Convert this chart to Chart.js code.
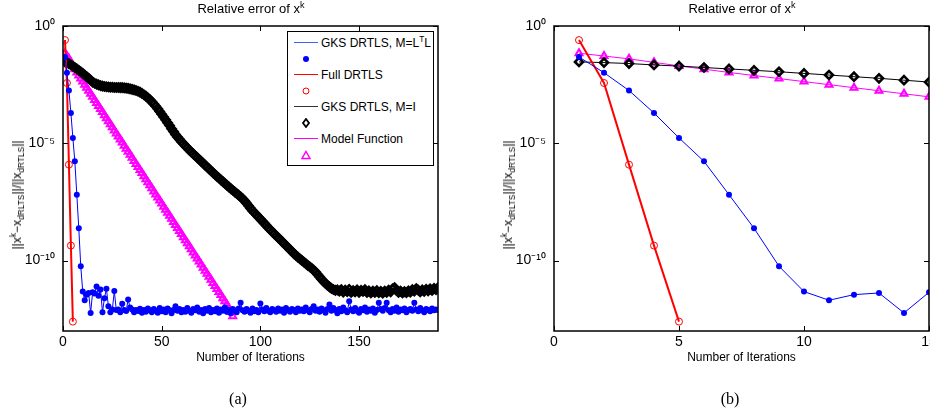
<!DOCTYPE html>
<html>
<head>
<meta charset="utf-8">
<title>Relative error of x^k</title>
<script src="https://cdn.jsdelivr.net/npm/chart.js@4.4.1/dist/chart.umd.min.js"></script>
<style>
  html, body { margin: 0; padding: 0; width: 930px; height: 414px; overflow: hidden; background: #fff; }
  body { position: relative; font-family: "Liberation Sans", Arial, sans-serif; color: #000; }
  .panel { position: absolute; top: 0; width: 450px; height: 414px; }
  .title { position: absolute; top: 1px; font-size: 13px; transform: translateX(-50%); white-space: nowrap; }
  .ylab { position: absolute; top: 195px; font-size: 12px; white-space: nowrap; transform: translate(-50%, -50%) rotate(-90deg); }
  sup, sub { font-size: 70%; line-height: 0; position: relative; vertical-align: baseline; }
  sup { top: -0.6em; }
  sub { top: 0.4em; }
  .caption { position: absolute; top: 390px; font-family: "Liberation Serif", "Times New Roman", serif; font-size: 16px; transform: translateX(-50%); }
  .legend { position: absolute; left: 287px; top: 31px; width: 145px; height: 133px; border: 1px solid #000; background: #fff; font-size: 12px; }
  .legend .row { position: absolute; left: 0; height: 16px; line-height: 16px; width: 100%; white-space: nowrap; }
  .legend .line { position: absolute; left: 6px; top: 7px; width: 24px; height: 0; border-top: 1.5px solid; }
  .legend .txt { position: absolute; left: 33px; top: 0; }
  .legend svg { position: absolute; left: 13px; top: 3px; }
</style>
</head>
<body>

<div class="panel" style="left:0"><canvas id="chartA"></canvas></div>
<div class="panel" style="left:491px"><canvas id="chartB"></canvas></div>

<div class="title" style="left:251px">Relative error of x<sup>k</sup></div>
<div class="title" style="left:742px">Relative error of x<sup>k</sup></div>

<div class="ylab" style="left:17px">||x<sup>k</sup>&minus;x<sub>dRLTS</sub>||/||x<sub>dRTLS</sub>||</div>
<div class="ylab" style="left:508px">||x<sup>k</sup>&minus;x<sub>dRLTS</sub>||/||x<sub>dRTLS</sub>||</div>

<div class="legend">
  <div class="row" style="top:3px"><span class="line" style="border-color:#4060ff"></span><span class="txt">GKS DRTLS, M=L<sup>T</sup>L</span></div>
  <div class="row" style="top:19px"><svg width="10" height="10"><circle cx="5" cy="5" r="3" fill="#0000ff"/></svg></div>
  <div class="row" style="top:35px"><span class="line" style="border-color:#ff0000"></span><span class="txt">Full DRTLS</span></div>
  <div class="row" style="top:51px"><svg width="10" height="10"><circle cx="5" cy="5" r="3" fill="none" stroke="#ff0000" stroke-width="1"/></svg></div>
  <div class="row" style="top:67px"><span class="line" style="border-color:#333"></span><span class="txt">GKS DRTLS, M=I</span></div>
  <div class="row" style="top:83px"><svg width="10" height="10"><polygon points="5,1 8,5 5,9 2,5" fill="none" stroke="#000" stroke-width="1.8"/></svg></div>
  <div class="row" style="top:99px"><span class="line" style="border-color:#ff00ff"></span><span class="txt">Model Function</span></div>
  <div class="row" style="top:115px"><svg width="10" height="10"><polygon points="5,1.5 9,8.5 1,8.5" fill="none" stroke="#ff00ff" stroke-width="1.5"/></svg></div>
</div>

<div class="caption" style="left:238px">(a)</div>
<div class="caption" style="left:730px">(b)</div>

<script>
// log10 of the relative error, one value per iteration (k = 1, 2, ...)
const gksLtlErr = [
  -1.32, -1.99, -2.75, -3.71, -4.77, -5.77, -7.19, -8.62, -10.24, -11.32,
  -11.69, -11.45, -11.38, -12.23, -11.35, -11.40, -11.10, -11.50, -11.23, -12.20,
  -11.60, -11.20, -11.94, -12.20, -12.08, -11.30, -12.10, -12.08, -12.20, -11.84,
  -12.10, -12.15, -11.66, -12.00, -12.08, -12.20, -12.10, -12.15, -12.05, -12.22,
  -12.10, -12.18, -12.04, -12.12, -12.20, -12.06, -12.14, -12.22, -12.02, -12.16,
  -12.08, -12.20, -12.04, -12.12, -12.24, -12.10, -11.94, -12.14, -12.06, -12.20,
  -12.10, -12.18, -12.02, -12.14, -12.22, -12.06, -12.12, -12.00, -12.18, -12.10,
  -12.24, -12.06, -12.14, -12.02, -12.20, -12.10, -12.16, -12.04, -12.22, -12.08,
  -12.14, -12.00, -12.18, -12.10, -12.24, -12.06, -12.12, -12.20, -12.04, -11.80,
  -12.12, -12.18, -12.06, -12.14, -12.22, -12.04, -12.16, -12.10, -12.20, -11.83,
  -12.08, -12.16, -12.02, -12.14, -12.20, -12.06, -12.12, -12.18, -12.04, -12.14,
  -12.08, -12.22, -12.02, -12.12, -12.18, -12.06, -12.10, -12.20, -12.04, -12.14,
  -12.08, -12.16, -12.00, -12.12, -12.20, -12.06, -11.94, -12.14, -12.08, -12.18,
  -12.04, -12.12, -12.22, -12.06, -11.87, -12.14, -12.02, -12.10, -12.24, -12.06,
  -12.16, -12.00, -12.12, -12.20, -11.73, -12.08, -12.16, -12.02, -12.14, -12.22,
  -12.06, -12.12, -12.00, -12.18, -12.08, -12.14, -12.04, -12.22, -12.10, -11.80,
  -12.06, -12.14, -12.02, -11.80, -12.12, -12.20, -12.06, -12.14, -12.00, -12.18,
  -12.08, -12.12, -12.04, -12.20, -12.10, -12.06, -12.14, -11.80, -12.08, -12.16,
  -12.02, -12.12, -12.20, -12.06, -12.10, -12.16, -12.04, -12.12, -12.08, -12.10
];
const fullErr = [-0.60, -2.43, -5.91, -9.36, -12.60];
const gksIdErr = [
  -1.53, -1.56, -1.60, -1.66, -1.71, -1.77, -1.83, -1.89, -1.95, -2.02,
  -2.09, -2.16, -2.23, -2.31, -2.39, -2.44, -2.48, -2.51, -2.54, -2.56,
  -2.58, -2.59, -2.60, -2.61, -2.61, -2.62, -2.62, -2.62, -2.63, -2.63,
  -2.64, -2.65, -2.66, -2.68, -2.70, -2.72, -2.75, -2.78, -2.82, -2.87,
  -2.93, -2.99, -3.06, -3.14, -3.23, -3.32, -3.42, -3.53, -3.64, -3.76,
  -3.88, -4.00, -4.12, -4.24, -4.38, -4.50, -4.62, -4.73, -4.83, -4.93,
  -5.02, -5.11, -5.20, -5.29, -5.37, -5.45, -5.53, -5.61, -5.69, -5.77,
  -5.85, -5.93, -6.01, -6.09, -6.17, -6.25, -6.33, -6.41, -6.48, -6.56,
  -6.63, -6.71, -6.78, -6.86, -6.93, -7.00, -7.07, -7.14, -7.21, -7.28,
  -7.36, -7.45, -7.55, -7.66, -7.77, -7.87, -7.96, -8.05, -8.14, -8.23,
  -8.32, -8.41, -8.50, -8.60, -8.68, -8.77, -8.85, -8.94, -9.02, -9.10,
  -9.19, -9.27, -9.36, -9.44, -9.53, -9.61, -9.70, -9.78, -9.85, -9.92,
  -9.99, -10.06, -10.13, -10.20, -10.26, -10.33, -10.40, -10.49, -10.59, -10.69,
  -10.79, -10.89, -10.97, -11.05, -11.12, -11.18, -11.23, -11.27, -11.25, -11.30,
  -11.24, -11.34, -11.26, -11.32, -11.22, -11.36, -11.28, -11.33, -11.25, -11.35,
  -11.27, -11.31, -11.24, -11.36, -11.29, -11.38, -11.30, -11.36, -11.28, -11.37,
  -11.31, -11.39, -11.30, -11.36, -11.26, -11.33, -11.20, -11.15, -11.27, -11.36,
  -11.30, -11.38, -11.32, -11.37, -11.29, -11.34, -11.24, -11.30, -11.19, -11.26,
  -11.33, -11.25, -11.31, -11.22, -11.29, -11.20, -11.27, -11.18, -11.24, -11.15
];
const modelErr = [
  -1.16, -1.28, -1.40, -1.55, -1.70, -1.84, -1.98, -2.11, -2.24, -2.37,
  -2.50, -2.63, -2.76, -2.89, -3.02, -3.15, -3.28, -3.41, -3.54, -3.67,
  -3.80, -3.93, -4.06, -4.19, -4.32, -4.45, -4.58, -4.71, -4.84, -4.97,
  -5.10, -5.23, -5.36, -5.49, -5.62, -5.75, -5.88, -6.01, -6.14, -6.27,
  -6.40, -6.53, -6.66, -6.79, -6.92, -7.05, -7.18, -7.31, -7.44, -7.57,
  -7.70, -7.83, -7.96, -8.09, -8.22, -8.35, -8.48, -8.61, -8.74, -8.87,
  -9.00, -9.13, -9.26, -9.39, -9.52, -9.65, -9.78, -9.91, -10.04, -10.17,
  -10.30, -10.43, -10.56, -10.69, -10.82, -10.95, -11.08, -11.21, -11.34, -11.47,
  -11.60, -11.73, -11.87, -12.02, -12.18, -12.37
];

const xTicksA = [0, 50, 100, 150];
const xTicksB = [0, 5, 10, 15];
const yTicks = [1, 1e-5, 1e-10];
const yTickLabels = ['10\u2070', '10\u207B\u2075', '10\u207B\u00B9\u2070'];

Chart.defaults.font.family = '"Liberation Sans", Arial, Helvetica, sans-serif';
Chart.defaults.color = '#000';

// iteration k -> point, first value is k = 1
function toPoints(errs, count) {
  return errs.slice(0, count).map((e, i) => ({ x: i + 1, y: Math.pow(10, e) }));
}

// matlab style box with inward ticks on all four sides
const axesBox = {
  id: 'axesBox',
  afterDatasetsDraw(chart) {
    const { ctx, chartArea: a, scales } = chart;
    const len = 5;
    ctx.save();
    ctx.strokeStyle = '#000';
    ctx.lineWidth = 1;
    ctx.beginPath();
    scales.x.ticks.forEach(t => {
      const px = Math.round(scales.x.getPixelForValue(t.value)) + 0.5;
      ctx.moveTo(px, a.bottom); ctx.lineTo(px, a.bottom - len);
      ctx.moveTo(px, a.top); ctx.lineTo(px, a.top + len);
    });
    scales.y.ticks.forEach(t => {
      const py = Math.round(scales.y.getPixelForValue(t.value)) + 0.5;
      ctx.moveTo(a.left, py); ctx.lineTo(a.left + len, py);
      ctx.moveTo(a.right, py); ctx.lineTo(a.right - len, py);
    });
    ctx.stroke();
    ctx.lineWidth = 1.5;
    ctx.strokeRect(a.left, a.top, a.right - a.left, a.bottom - a.top);
    ctx.restore();
  }
};

function makeChart(id, xMax, xTicks, count) {
  const datasets = [
    {
      label: 'GKS DRTLS, M=LTL',
      data: toPoints(gksLtlErr, count),
      borderColor: '#0000ff', backgroundColor: '#0000ff', borderWidth: 1,
      pointStyle: 'circle', pointRadius: 3, pointBorderWidth: 0
    },
    {
      label: 'Full DRTLS',
      data: toPoints(fullErr, count),
      borderColor: '#ff0000', backgroundColor: 'rgba(0,0,0,0)', borderWidth: 2,
      pointStyle: 'circle', pointRadius: 3.5, pointBorderWidth: 1
    },
    {
      label: 'GKS DRTLS, M=I',
      data: toPoints(gksIdErr, count),
      borderColor: '#000000', backgroundColor: 'rgba(0,0,0,0)', borderWidth: 1,
      pointStyle: 'rectRot', pointRadius: 4, pointBorderWidth: 2.6
    },
    {
      label: 'Model Function',
      data: toPoints(modelErr, count),
      borderColor: '#ff00ff', backgroundColor: 'rgba(0,0,0,0)', borderWidth: 1,
      pointStyle: 'triangle', pointRadius: 4, pointBorderWidth: 2
    }
  ];

  return new Chart(document.getElementById(id), {
    type: 'line',
    data: { datasets },
    options: {
      responsive: true,
      maintainAspectRatio: false,
      animation: false,
      events: [],
      layout: { padding: { top: 26, right: 12, bottom: 48, left: 0 } },
      plugins: { legend: { display: false }, tooltip: { enabled: false } },
      scales: {
        x: {
          type: 'linear',
          min: 0,
          max: xMax,
          grid: { display: false, drawTicks: false },
          border: { display: false },
          ticks: { font: { size: 14 }, padding: 3, maxRotation: 0 },
          afterBuildTicks: s => { s.ticks = xTicks.map(v => ({ value: v })); },
          afterFit: s => { s.height = 35; },
          title: {
            display: true,
            text: 'Number of Iterations',
            font: { size: 12 },
            padding: { top: 0, bottom: 1 }
          }
        },
        y: {
          type: 'logarithmic',
          min: 1e-13,
          max: 1,
          grid: { display: false, drawTicks: false },
          border: { display: false },
          ticks: {
            font: { size: 14 },
            padding: 8,
            callback: (v, i) => yTickLabels[i]
          },
          afterBuildTicks: s => { s.ticks = yTicks.map(v => ({ value: v })); },
          afterFit: s => { s.width = 63; }
        }
      }
    },
    plugins: [axesBox]
  });
}

makeChart('chartA', 190, xTicksA, 190);
makeChart('chartB', 15, xTicksB, 15);
</script>
</body>
</html>
